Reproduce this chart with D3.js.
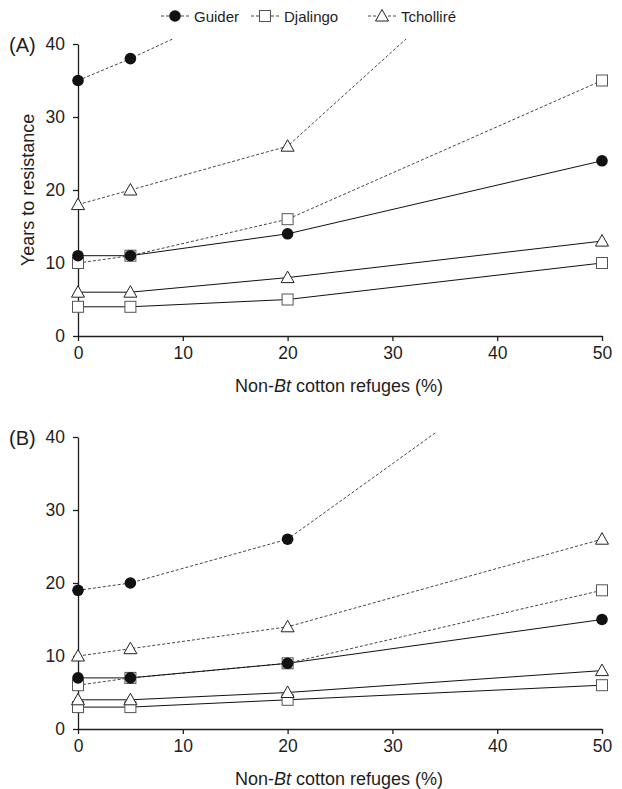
<!DOCTYPE html>
<html>
<head>
<meta charset="utf-8">
<script src="https://cdn.jsdelivr.net/npm/d3@7"></script>
<style>
  body { margin: 0; background: #fff; }
  svg { display: block; font-family: "Liberation Sans", Arial, sans-serif; }
</style>
</head>
<body>
<div id="chart"></div>
<script>
// refuge sizes on the x axis (%)
const refuges = [0, 5, 20, 50];
const xTicks = [0, 10, 20, 30, 40, 50];
const yTicks = [0, 10, 20, 30, 40];
const sites = ["Guider", "Djalingo", "Tcholliré"];

// panel A (values above 40 run off the top of the plot)
const aGuiderDashed = [35, 38, 48, 70];
const aDjalingoDashed = [10, 11, 16, 35];
const aTchollireDashed = [18, 20, 26, 65];
const aGuiderSolid = [11, 11, 14, 24];
const aDjalingoSolid = [4, 4, 5, 10];
const aTchollireSolid = [6, 6, 8, 13];

// panel B
const bGuiderDashed = [19, 20, 26, 57];
const bDjalingoDashed = [6, 7, 9, 19];
const bTchollireDashed = [10, 11, 14, 26];
const bGuiderSolid = [7, 7, 9, 15];
const bDjalingoSolid = [3, 3, 4, 6];
const bTchollireSolid = [4, 4, 5, 8];

const W = 622, H = 789;
const svg = d3.select("#chart").append("svg").attr("width", W).attr("height", H);
const ink = "#1e1e1e";

function drawMarker(sel, site, x, y) {
  if (site === "Guider") {
    sel.append("circle").attr("cx", x).attr("cy", y).attr("r", 5.8).attr("fill", "#111");
  } else if (site === "Djalingo") {
    sel.append("rect").attr("x", x - 5.5).attr("y", y - 5.5).attr("width", 11).attr("height", 11)
      .attr("fill", "#fff").attr("stroke", "#555").attr("stroke-width", 1);
  } else {
    sel.append("path").attr("d", `M${x},${y - 6.5}L${x + 6.5},${y + 5}L${x - 6.5},${y + 5}Z`)
      .attr("fill", "#fff").attr("stroke", "#222").attr("stroke-width", 1);
  }
}

function drawPanel(id, top, label, series) {
  const x = d3.scaleLinear().domain([0, 50]).range([78, 602]);
  const y = d3.scaleLinear().domain([0, 40]).range([top + 292, top]);
  const g = svg.append("g");

  g.append("clipPath").attr("id", "clip" + id)
    .append("rect").attr("x", 70).attr("y", top - 5).attr("width", 545).attr("height", 300);

  const line = d3.line().x((d, i) => x(refuges[i])).y((d) => y(d));
  const lines = g.append("g").attr("clip-path", `url(#clip${id})`);
  series.forEach((s) => {
    lines.append("path")
      .datum(s.values)
      .attr("d", line)
      .attr("fill", "none")
      .attr("stroke", s.dashed ? "#444" : "#111")
      .attr("stroke-width", 1)
      .attr("stroke-dasharray", s.dashed ? "3,2" : null);
  });

  // axes
  const xAxis = g.append("g").attr("transform", `translate(0,${y(0)})`)
    .call(d3.axisBottom(x).tickValues(xTicks).tickSize(5).tickSizeOuter(0).tickPadding(6));
  const yAxis = g.append("g").attr("transform", `translate(${x(0)},0)`)
    .call(d3.axisLeft(y).tickValues(yTicks).tickSize(5).tickSizeOuter(0).tickPadding(8));
  [xAxis, yAxis].forEach((a) => {
    a.selectAll("path,line").attr("stroke", ink).attr("stroke-width", 1.3);
    a.selectAll("text").attr("fill", ink).attr("font-size", 17.5)
      .attr("font-family", "Liberation Sans, Arial, sans-serif");
  });

  // markers: circles last so they sit on top
  const marks = g.append("g");
  const order = ["Djalingo", "Tcholliré", "Guider"];
  order.forEach((site) => {
    series.filter((s) => s.site === site).forEach((s) => {
      s.values.forEach((v, i) => {
        if (v <= 40) drawMarker(marks, site, x(refuges[i]), y(v));
      });
    });
  });

  g.append("text").attr("x", 9).attr("y", top + 8).attr("font-size", 20).attr("fill", ink).text(label);

  const xt = g.append("text").attr("x", 339).attr("y", y(0) + 56)
    .attr("text-anchor", "middle").attr("font-size", 18).attr("fill", ink);
  xt.append("tspan").text("Non-");
  xt.append("tspan").attr("font-style", "italic").text("Bt");
  xt.append("tspan").text(" cotton refuges (%)");
}

drawPanel("A", 44, "(A)", [
  { site: "Guider", dashed: true, values: aGuiderDashed },
  { site: "Djalingo", dashed: true, values: aDjalingoDashed },
  { site: "Tcholliré", dashed: true, values: aTchollireDashed },
  { site: "Guider", dashed: false, values: aGuiderSolid },
  { site: "Djalingo", dashed: false, values: aDjalingoSolid },
  { site: "Tcholliré", dashed: false, values: aTchollireSolid },
]);

drawPanel("B", 437, "(B)", [
  { site: "Guider", dashed: true, values: bGuiderDashed },
  { site: "Djalingo", dashed: true, values: bDjalingoDashed },
  { site: "Tcholliré", dashed: true, values: bTchollireDashed },
  { site: "Guider", dashed: false, values: bGuiderSolid },
  { site: "Djalingo", dashed: false, values: bDjalingoSolid },
  { site: "Tcholliré", dashed: false, values: bTchollireSolid },
]);

// y title (panel A only)
svg.append("text")
  .attr("transform", "translate(34,190) rotate(-90)")
  .attr("text-anchor", "middle").attr("font-size", 18).attr("fill", ink)
  .text("Years to resistance");

// legend
const legendX = [161, 251, 368];
const legend = svg.append("g");
sites.forEach((site, i) => {
  const lx = legendX[i], ly = 16;
  legend.append("line").attr("x1", lx).attr("x2", lx + 29).attr("y1", ly).attr("y2", ly)
    .attr("stroke", "#444").attr("stroke-dasharray", "3,2");
  drawMarker(legend, site, lx + 14, ly);
  legend.append("text").attr("x", lx + 33).attr("y", ly + 5.5).attr("font-size", 15)
    .attr("fill", ink).text(site);
});
</script>
</body>
</html>
